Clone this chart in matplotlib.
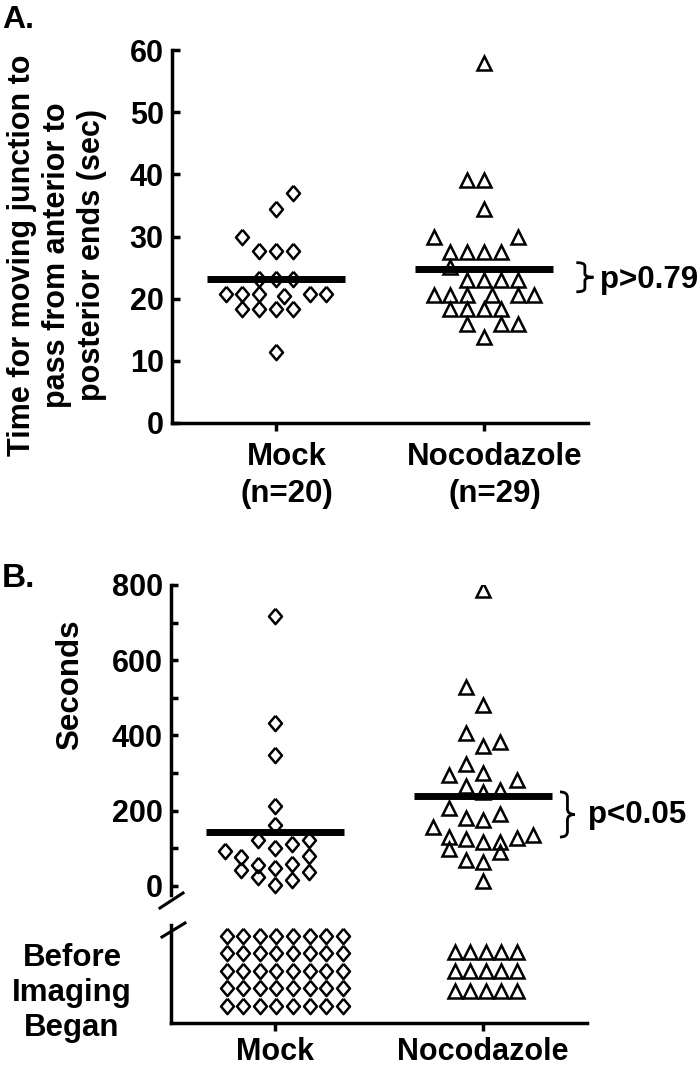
import numpy as np
import matplotlib.pyplot as plt
from matplotlib.path import Path
from matplotlib.patches import PathPatch
from matplotlib.lines import Line2D
from matplotlib.transforms import ScaledTranslation

plt.rcParams['font.family'] = ['Liberation Sans', 'DejaVu Sans']
plt.rcParams['font.weight'] = 'bold'

# A) time for moving junction to pass (sec), slot = column in the dot plot
mock_a = [37.0, 34.5, 30.0, 27.6, 27.6, 27.6, 23.2, 23.2, 23.2,
          20.7, 20.7, 20.7, 20.7, 20.7, 20.5, 18.4, 18.4, 18.4, 18.4, 11.4]
mock_a_slot = [1, 0, -2, -1, 0, 1, -1, 0, 1,
               -3, -2, -1, 2, 3, 0.5, -2, -1, 0, 1, 0]
noco_a = [57.9, 39.1, 39.1, 34.5, 30.0, 30.0, 27.5, 27.5, 27.5, 27.5, 25.1,
          23.0, 23.0, 23.0, 23.0, 20.6, 20.6, 20.6, 20.6, 20.6, 20.6,
          18.3, 18.3, 18.3, 18.3, 16.0, 16.0, 16.0, 13.8]
noco_a_slot = [0, -1, 0, 0, -3, 2, -2, -1, 0, 1, -2,
               -1, 0, 1, 2, -3, -2, -1, 0.5, 2, 3,
               -2, -1, 0, 1, -1, 1, 2, 0]
labels_a = ['Mock\n(n=20)', 'Nocodazole\n(n=29)']

# B) seconds, plus junctions that formed before imaging began
mock_b = [718, 432, 347, 213, 161, 123, 123, 111, 102, 93, 77, 79, 57, 59,
          48, 43, 37, 25, 17, 2]
mock_b_slot = [0, 0, 0, 0, 0, -1, 2, 1, 0, -3, -2, 2, -1, 1, 0, -2, 2, -1, 1, 0]
noco_b = [787, 529, 482, 407, 383, 371, 325, 294, 300, 281, 265, 250, 254,
          208, 192, 182, 176, 157, 130, 126, 117, 117, 128, 135, 99, 90,
          68, 64, 14]
noco_b_slot = [0, -1, 0, -1, 1, 0, -1, -2, 0, 2, -1, 0, 1, -2, 1, -1, 0,
               -3, -2, -1, 0, 1, 2, 3, -2, 1, -1, 0, 0]
mock_before = 40
noco_before = 15
labels_b = ['Mock', 'Nocodazole']

W, H = 700, 1068
fig = plt.figure(figsize=(W / 100, H / 100), dpi=100)


def box(left, top, right, bottom):
    return [left / W, 1 - bottom / H, (right - left) / W, (bottom - top) / H]


def brace(ax, x0, x1, y0, y1):
    xm = (x0 + x1) / 2
    ym = (y0 + y1) / 2
    r = (y1 - y0) * 0.12
    verts = [(x0, y1), (xm, y1), (xm, y1 - r), (xm, ym + r), (xm, ym), (x1, ym),
             (xm, ym), (xm, ym - r), (xm, y0 + r), (xm, y0), (x0, y0)]
    codes = [Path.MOVETO, Path.CURVE3, Path.CURVE3, Path.LINETO, Path.CURVE3,
             Path.CURVE3, Path.CURVE3, Path.CURVE3, Path.LINETO, Path.CURVE3,
             Path.CURVE3]
    ax.add_patch(PathPatch(Path(verts, codes), fill=False, lw=2, clip_on=False))


diamond = [(0, 1), (0.85, 0), (0, -1), (-0.85, 0), (0, 1)]
dia_kw = dict(ls='none', marker=diamond, ms=11, mfc='none', mec='black', mew=1.8)
tri_kw = dict(ls='none', marker='^', ms=10, mfc='none', mec='black', mew=1.8)
step = 0.0806
half = 0.332
lw_ax = 2.5
fs = 22.5

# ---- panel A ----
ax = fig.add_axes(box(172, 50, 588, 423))
ax.plot(1 + step * np.array(mock_a_slot), mock_a, **dia_kw)
ax.plot(2 + step * np.array(noco_a_slot), noco_a, **tri_kw)
ax.hlines(np.mean(mock_a), 1 - half, 1 + half, color='black', lw=5, zorder=4)
ax.hlines(np.mean(noco_a), 2 - half, 2 + half, color='black', lw=5, zorder=4)
ax.set_xlim(0.5, 2.5)
ax.set_ylim(0, 60)
ax.set_yticks(np.arange(0, 61, 10))
ax.set_xticks([1, 2])
ax.set_xticklabels(labels_a, linespacing=1.3)
for s in ['top', 'right']:
    ax.spines[s].set_visible(False)
for s in ['left', 'bottom']:
    ax.spines[s].set_linewidth(lw_ax)
ax.tick_params(axis='y', direction='in', length=6, width=lw_ax, labelsize=22, pad=6)
ax.tick_params(axis='x', direction='out', length=6, width=lw_ax, labelsize=fs, pad=8)
for lab in ax.get_xticklabels():
    lab.set_transform(lab.get_transform() + ScaledTranslation(0.11, 0, fig.dpi_scale_trans))
brace(ax, 2.444, 2.526, 21.1, 25.8)

fig.text(57 / W, 1 - 255 / H, 'Time for moving junction to\npass from anterior to\nposterior ends (sec)',
         rotation=90, ha='center', va='center', fontsize=22, linespacing=1.2,
         multialignment='center')
fig.text(600 / W, 1 - 280 / H, 'p>0.79', ha='left', va='center', fontsize=fs)
fig.text(2 / W, 1 - 28 / H, 'A.', ha='left', va='baseline', fontsize=23)

# ---- panel B, timed junctions ----
ax = fig.add_axes(box(171, 585, 587, 895))
ax.plot(1 + step * np.array(mock_b_slot), mock_b, **dia_kw)
ax.plot(2 + step * np.array(noco_b_slot), noco_b, **tri_kw)
ax.hlines(np.mean(mock_b), 1 - half, 1 + half, color='black', lw=5, zorder=4)
ax.hlines(np.mean(noco_b), 2 - half, 2 + half, color='black', lw=5, zorder=4)
ax.set_xlim(0.5, 2.5)
ax.set_ylim(-24, 800)
ax.set_yticks(np.arange(0, 801, 200))
ax.set_yticks(np.arange(100, 800, 200), minor=True)
ax.set_xticks([])
for s in ['top', 'right', 'bottom']:
    ax.spines[s].set_visible(False)
ax.spines['left'].set_linewidth(lw_ax)
ax.tick_params(axis='y', which='both', direction='in', length=5, width=lw_ax,
               labelsize=22, pad=6)
brace(ax, 2.37, 2.442, 130, 250)

fig.text(70 / W, 1 - 685 / H, 'Seconds', rotation=90, ha='center', va='center', fontsize=fs)
fig.text(588 / W, 1 - 815 / H, 'p<0.05', ha='left', va='center', fontsize=fs)
fig.text(2 / W, 1 - 587 / H, 'B.', ha='left', va='baseline', fontsize=24)

# ---- panel B, before imaging began ----
ax = fig.add_axes(box(171, 925, 587, 1023))
cols = 8
cx, cy = np.meshgrid(np.arange(cols), np.arange(mock_before // cols))
ax.plot(1.047 + 0.0798 * (cx.ravel() - (cols - 1) / 2), 17.3 + 17.5 * cy.ravel(), **dia_kw)
cols = 5
cx, cy = np.meshgrid(np.arange(cols), np.arange(noco_before // cols))
ax.plot(2.014 + 0.0745 * (cx.ravel() - (cols - 1) / 2), 32.3 + 19.5 * cy.ravel(), **tri_kw)
ax.set_xlim(0.5, 2.5)
ax.set_ylim(0, 98)
ax.set_yticks([])
ax.set_xticks([1, 2])
ax.set_xticklabels(labels_b)
for s in ['top', 'right']:
    ax.spines[s].set_visible(False)
for s in ['left', 'bottom']:
    ax.spines[s].set_linewidth(lw_ax)
ax.tick_params(axis='x', direction='out', length=6, width=lw_ax, labelsize=22, pad=4)

fig.text(72 / W, 1 - 993 / H, 'Before\nImaging\nBegan', ha='center', va='center',
         fontsize=fs, linespacing=1.2)

# axis break marks
for (x0, y0), (x1, y1) in [((160, 908), (183, 893)), ((162, 937), (185, 923))]:
    fig.add_artist(Line2D([x0 / W, x1 / W], [1 - y0 / H, 1 - y1 / H],
                          transform=fig.transFigure, color='black', lw=2.2))

fig.savefig('out.png', dpi=100)
